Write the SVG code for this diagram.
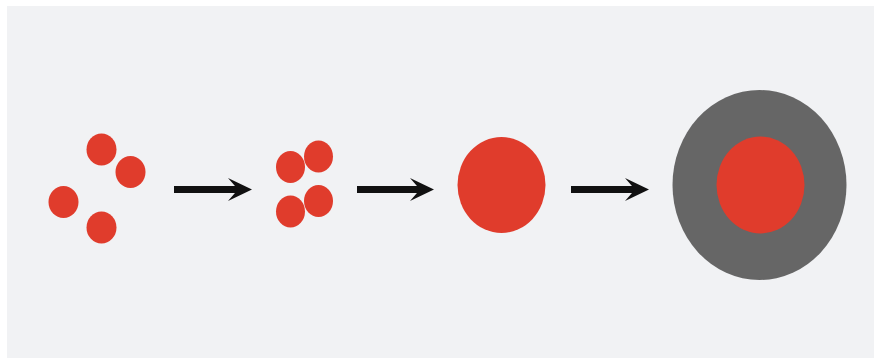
<svg xmlns="http://www.w3.org/2000/svg" width="874" height="361" viewBox="0 0 874 361">
  <style>
    .red { fill: #e03c2c; }
    .gray { fill: #666666; }
    .shaft { stroke: #111111; stroke-width: 7; fill: none; }
    .head { fill: #111111; }
  </style>
  <rect x="0" y="0" width="874" height="361" fill="#ffffff"/>
  <rect x="7" y="6" width="867" height="352" fill="#f1f2f4"/>

  <g id="stage1">
    <ellipse class="red" cx="101.5" cy="149.5" rx="15" ry="16"/>
    <ellipse class="red" cx="130.5" cy="172" rx="15" ry="16"/>
    <ellipse class="red" cx="63.5" cy="202" rx="15" ry="16"/>
    <ellipse class="red" cx="101.5" cy="227.5" rx="15" ry="16"/>
  </g>

  <g id="stage2">
    <ellipse class="red" cx="318.5" cy="156.5" rx="14.5" ry="16"/>
    <ellipse class="red" cx="290.5" cy="167" rx="14.5" ry="16"/>
    <ellipse class="red" cx="318.5" cy="201" rx="14.5" ry="16"/>
    <ellipse class="red" cx="290.5" cy="211.5" rx="14.5" ry="16"/>
  </g>

  <g id="stage3">
    <ellipse class="red" cx="501.5" cy="185" rx="44" ry="48"/>
  </g>

  <g id="stage4">
    <ellipse class="gray" cx="759.5" cy="185" rx="87" ry="95"/>
    <ellipse class="red" cx="760.5" cy="185" rx="44" ry="48.5"/>
  </g>

  <g id="connectors">
    <line class="shaft" x1="174" y1="189.5" x2="240" y2="189.5"/>
    <polygon class="head" points="252,189.5 228,178 238,189.5 228,201"/>
    <line class="shaft" x1="357" y1="189.5" x2="422" y2="189.5"/>
    <polygon class="head" points="434,189.5 410,178 420,189.5 410,201"/>
    <line class="shaft" x1="571" y1="189.5" x2="637" y2="189.5"/>
    <polygon class="head" points="649,189.5 625,178 635,189.5 625,201"/>
  </g>
</svg>
